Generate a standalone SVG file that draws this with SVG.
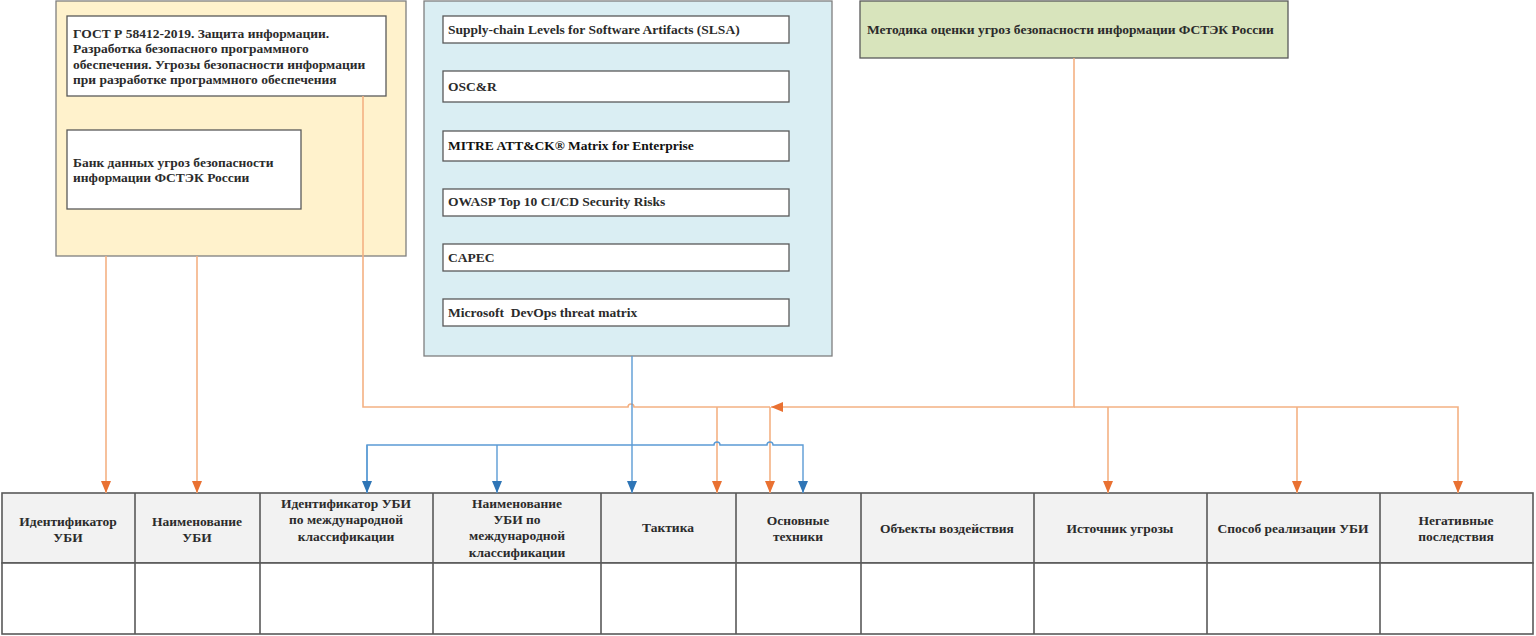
<svg xmlns="http://www.w3.org/2000/svg" width="1536" height="636" viewBox="0 0 1536 636">
<defs>
<style>
.t{font-family:"Liberation Serif","Times New Roman",serif;font-weight:bold;font-size:13.5px;fill:#2b2b2b;white-space:pre}
.c{text-anchor:middle}
.box{fill:#ffffff;stroke:#595959;stroke-width:1.3}
.grp{stroke:#7f7f7f;stroke-width:1.3}
.hd{fill:#f2f2f2;stroke:#595959;stroke-width:1.6}
.bd{fill:#ffffff;stroke:#595959;stroke-width:1.6}
.o{fill:none;stroke:#f4b183;stroke-width:1.6}
.b{fill:none;stroke:#5b9bd5;stroke-width:1.4}
</style>
<marker id="ao" viewBox="0 0 12 10" refX="12" refY="5" markerWidth="12" markerHeight="10" markerUnits="userSpaceOnUse" orient="auto"><path d="M0,0 L12,5 L0,10 z" fill="#e97132"/></marker>
<marker id="ab" viewBox="0 0 12 10" refX="12" refY="5" markerWidth="12" markerHeight="10" markerUnits="userSpaceOnUse" orient="auto"><path d="M0,0 L12,5 L0,10 z" fill="#2e75b6"/></marker>
</defs>
<rect width="1536" height="636" fill="#ffffff"/>

<g id="group-fstec">
<rect class="grp" x="56" y="1" width="350" height="255" fill="#fff2cc"/>
</g>
<g id="gost">
<rect class="box" x="67" y="16" width="319" height="80"/>
<text class="t" x="73" y="38">ГОСТ Р 58412-2019. Защита информации.</text>
<text class="t" x="73" y="53">Разработка безопасного программного</text>
<text class="t" x="73" y="69">обеспечения. Угрозы безопасности информации</text>
<text class="t" x="73" y="84">при разработке программного обеспечения</text>
</g>
<g id="bdu">
<rect class="box" x="67" y="130" width="234" height="79"/>
<text class="t" x="73" y="167">Банк данных угроз безопасности</text>
<text class="t" x="73" y="182">информации ФСТЭК России</text>
</g>

<g id="group-intl">
<rect class="grp" x="424" y="1" width="408" height="355" fill="#daeef3"/>
</g>
<g id="slsa"><rect class="box" x="443" y="16" width="346" height="27"/><text class="t" x="448" y="34">Supply-chain Levels for Software Artifacts (SLSA)</text></g>
<g id="oscr"><rect class="box" x="443" y="71" width="346" height="31"/><text class="t" x="448" y="91">OSC&amp;R</text></g>
<g id="mitre"><rect class="box" x="443" y="131" width="346" height="30"/><text class="t" x="448" y="150" style="fill:#111">MITRE ATT&amp;CK® Matrix for Enterprise</text></g>
<g id="owasp"><rect class="box" x="443" y="189" width="346" height="27"/><text class="t" x="448" y="206">OWASP Top 10 CI/CD Security Risks</text></g>
<g id="capec"><rect class="box" x="443" y="244" width="346" height="27"/><text class="t" x="448" y="262">CAPEC</text></g>
<g id="msdevops"><rect class="box" x="443" y="299" width="346" height="27"/><text class="t" x="448" y="317">Microsoft  DevOps threat matrix</text></g>

<g id="metodika">
<rect x="860" y="1" width="428" height="57" fill="#d8e4bc" stroke="#595959" stroke-width="1.3"/>
<text class="t" x="867" y="34">Методика оценки угроз безопасности информации ФСТЭК России</text>
</g>

<g id="table">
<rect class="hd" x="2" y="493" width="1531" height="70"/>
<rect class="bd" x="2" y="563" width="1531" height="71"/>
<g stroke="#595959" stroke-width="1.6">
<line x1="135" y1="493" x2="135" y2="634"/>
<line x1="260" y1="493" x2="260" y2="634"/>
<line x1="433" y1="493" x2="433" y2="634"/>
<line x1="601" y1="493" x2="601" y2="634"/>
<line x1="736" y1="493" x2="736" y2="634"/>
<line x1="861" y1="493" x2="861" y2="634"/>
<line x1="1034" y1="493" x2="1034" y2="634"/>
<line x1="1207" y1="493" x2="1207" y2="634"/>
<line x1="1380" y1="493" x2="1380" y2="634"/>
</g>
<g id="col-id"><text class="t c" x="68" y="526">Идентификатор</text><text class="t c" x="68" y="542">УБИ</text></g>
<g id="col-name"><text class="t c" x="197" y="526">Наименование</text><text class="t c" x="197" y="542">УБИ</text></g>
<g id="col-intl-id"><text class="t c" x="346" y="508">Идентификатор УБИ</text><text class="t c" x="346" y="524">по международной</text><text class="t c" x="346" y="541">классификации</text></g>
<g id="col-intl-name"><text class="t c" x="517" y="508">Наименование</text><text class="t c" x="517" y="524">УБИ по</text><text class="t c" x="517" y="540">международной</text><text class="t c" x="517" y="557">классификации</text></g>
<g id="col-tactic"><text class="t c" x="668" y="532">Тактика</text></g>
<g id="col-tech"><text class="t c" x="798" y="525">Основные</text><text class="t c" x="798" y="541">техники</text></g>
<g id="col-obj"><text class="t c" x="947" y="533">Объекты воздействия</text></g>
<g id="col-src"><text class="t c" x="1120" y="533">Источник угрозы</text></g>
<g id="col-method"><text class="t c" x="1293" y="533">Способ реализации УБИ</text></g>
<g id="col-neg"><text class="t c" x="1456" y="525">Негативные</text><text class="t c" x="1456" y="541">последствия</text></g>
</g>

<g id="connectors">
<path class="o" d="M106,256 V493" marker-end="url(#ao)"/>
<path class="o" d="M197,256 V493" marker-end="url(#ao)"/>
<path class="o" d="M363,96 V407 H628 A3,3 0 0 1 634,407 H770"/>
<path class="o" d="M1074,58 V407 H771" marker-end="url(#ao)"/>
<path class="o" d="M770,407 V493" marker-end="url(#ao)"/>
<path class="o" d="M717,407 V493" marker-end="url(#ao)"/>
<path class="o" d="M1074,407 H1458 V493" marker-end="url(#ao)"/>
<path class="o" d="M1108,407 V493" marker-end="url(#ao)"/>
<path class="o" d="M1297,407 V493" marker-end="url(#ao)"/>
<path class="b" d="M632,356 V493" stroke="#41719c" marker-end="url(#ab)"/>
<path class="b" d="M367,493 V445 H714 A3,3 0 0 1 720,445 H767 A3,3 0 0 1 773,445 H803 V493" marker-end="url(#ab)"/>
<path class="b" d="M367,445 V493" marker-end="url(#ab)"/>
<path class="b" d="M497,445 V493" marker-end="url(#ab)"/>
</g>
</svg>
